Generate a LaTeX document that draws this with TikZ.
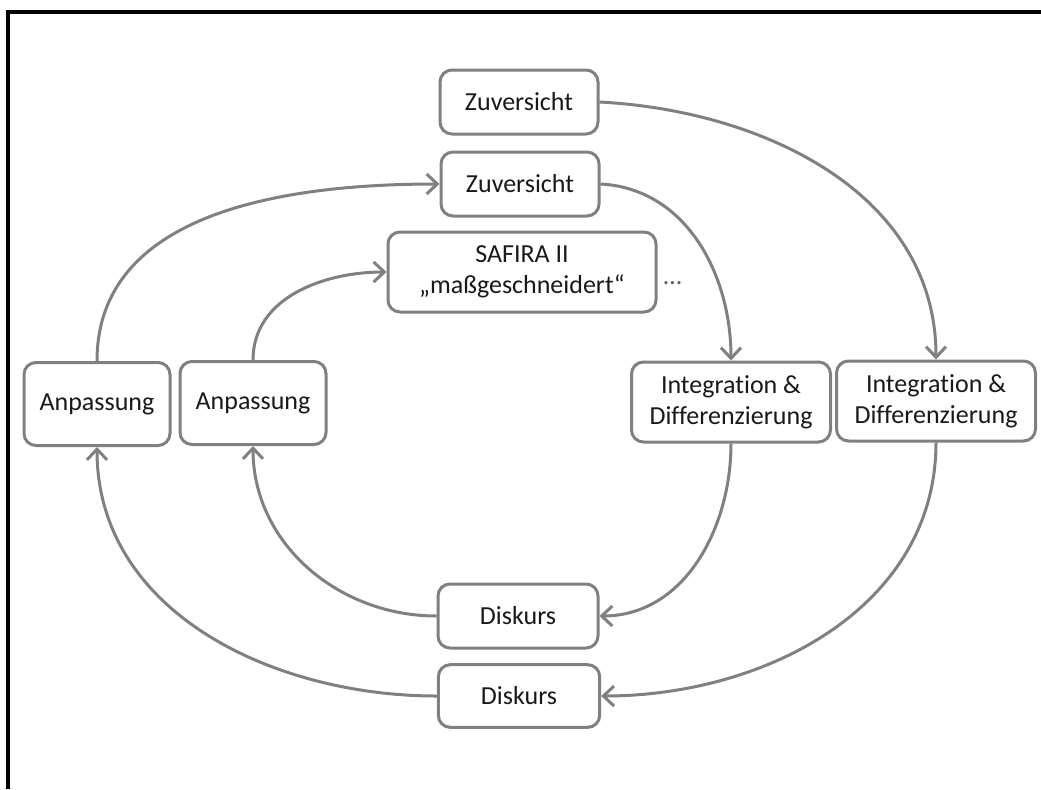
\documentclass[tikz,border=0pt]{standalone}
\usepackage{fontspec}
\setmainfont[Ligatures=NoCommon]{Carlito}
\usetikzlibrary{arrows.meta}
\definecolor{linegray}{RGB}{128,128,128}
\definecolor{textdark}{RGB}{25,25,25}
\tikzset{
  box/.style={draw=linegray, line width=2.25pt, rounded corners=9pt, fill=white,
    align=center, text=textdark, font=\fontsize{19.5}{23}\selectfont, inner sep=0pt},
  conn/.style={draw=linegray, line width=2.25pt,
    -{Straight Barb[length=8pt,width=15pt,line width=2.25pt]}},
}
\begin{document}
\begin{tikzpicture}[x=0.75pt,y=-0.75pt]
\useasboundingbox (0,0) rectangle (1041,789);
\draw[line width=2.4pt] (8,789) -- (8,12) -- (1041,12);

\node[box, minimum width=118.5pt, minimum height=48pt] (z1) at (519,102) {Zuversicht};
\node[box, minimum width=118.5pt, minimum height=48pt] (z2) at (520,184) {Zuversicht};
\node[box, minimum width=201pt, minimum height=60pt] (saf) at (522,272) {SAFIRA II\\„maßgeschneidert“};
\node[text=linegray!70!black, font=\fontsize{19.5}{23}\selectfont, anchor=west] (dots) at (659,283) {…};
\node[box, minimum width=109.5pt, minimum height=62.25pt] (a1) at (97,404) {Anpassung};
\node[box, minimum width=109.5pt, minimum height=62.25pt] (a2) at (253,403) {Anpassung};
\node[box, minimum width=149.25pt, minimum height=60pt] (i1) at (731,402) {Integration \&\\Differenzierung};
\node[box, minimum width=149.25pt, minimum height=60pt] (i2) at (936,401) {Integration \&\\Differenzierung};
\node[box, minimum width=120pt, minimum height=48pt] (d1) at (518,616) {Diskurs};
\node[box, minimum width=121pt, minimum height=47pt] (d2) at (519,696) {Diskurs};

\draw[conn] (z1.east) to[out=-3,in=90] (i2.north);
\draw[conn] (z2.east) to[out=-3,in=90] (i1.north);
\draw[conn] (i1.south) to[out=-90,in=0] (d1.east);
\draw[conn] (i2.south) to[out=-90,in=0] (d2.east);
\draw[conn] (d1.west) to[out=180,in=-90] (a2.south);
\draw[conn] (d2.west) to[out=180,in=-90] (a1.south);
\draw[conn] (a1.north) to[out=90,in=180] (z2.west);
\draw[conn] (a2.north) to[out=90,in=180] (saf.west);
\end{tikzpicture}
\end{document}
